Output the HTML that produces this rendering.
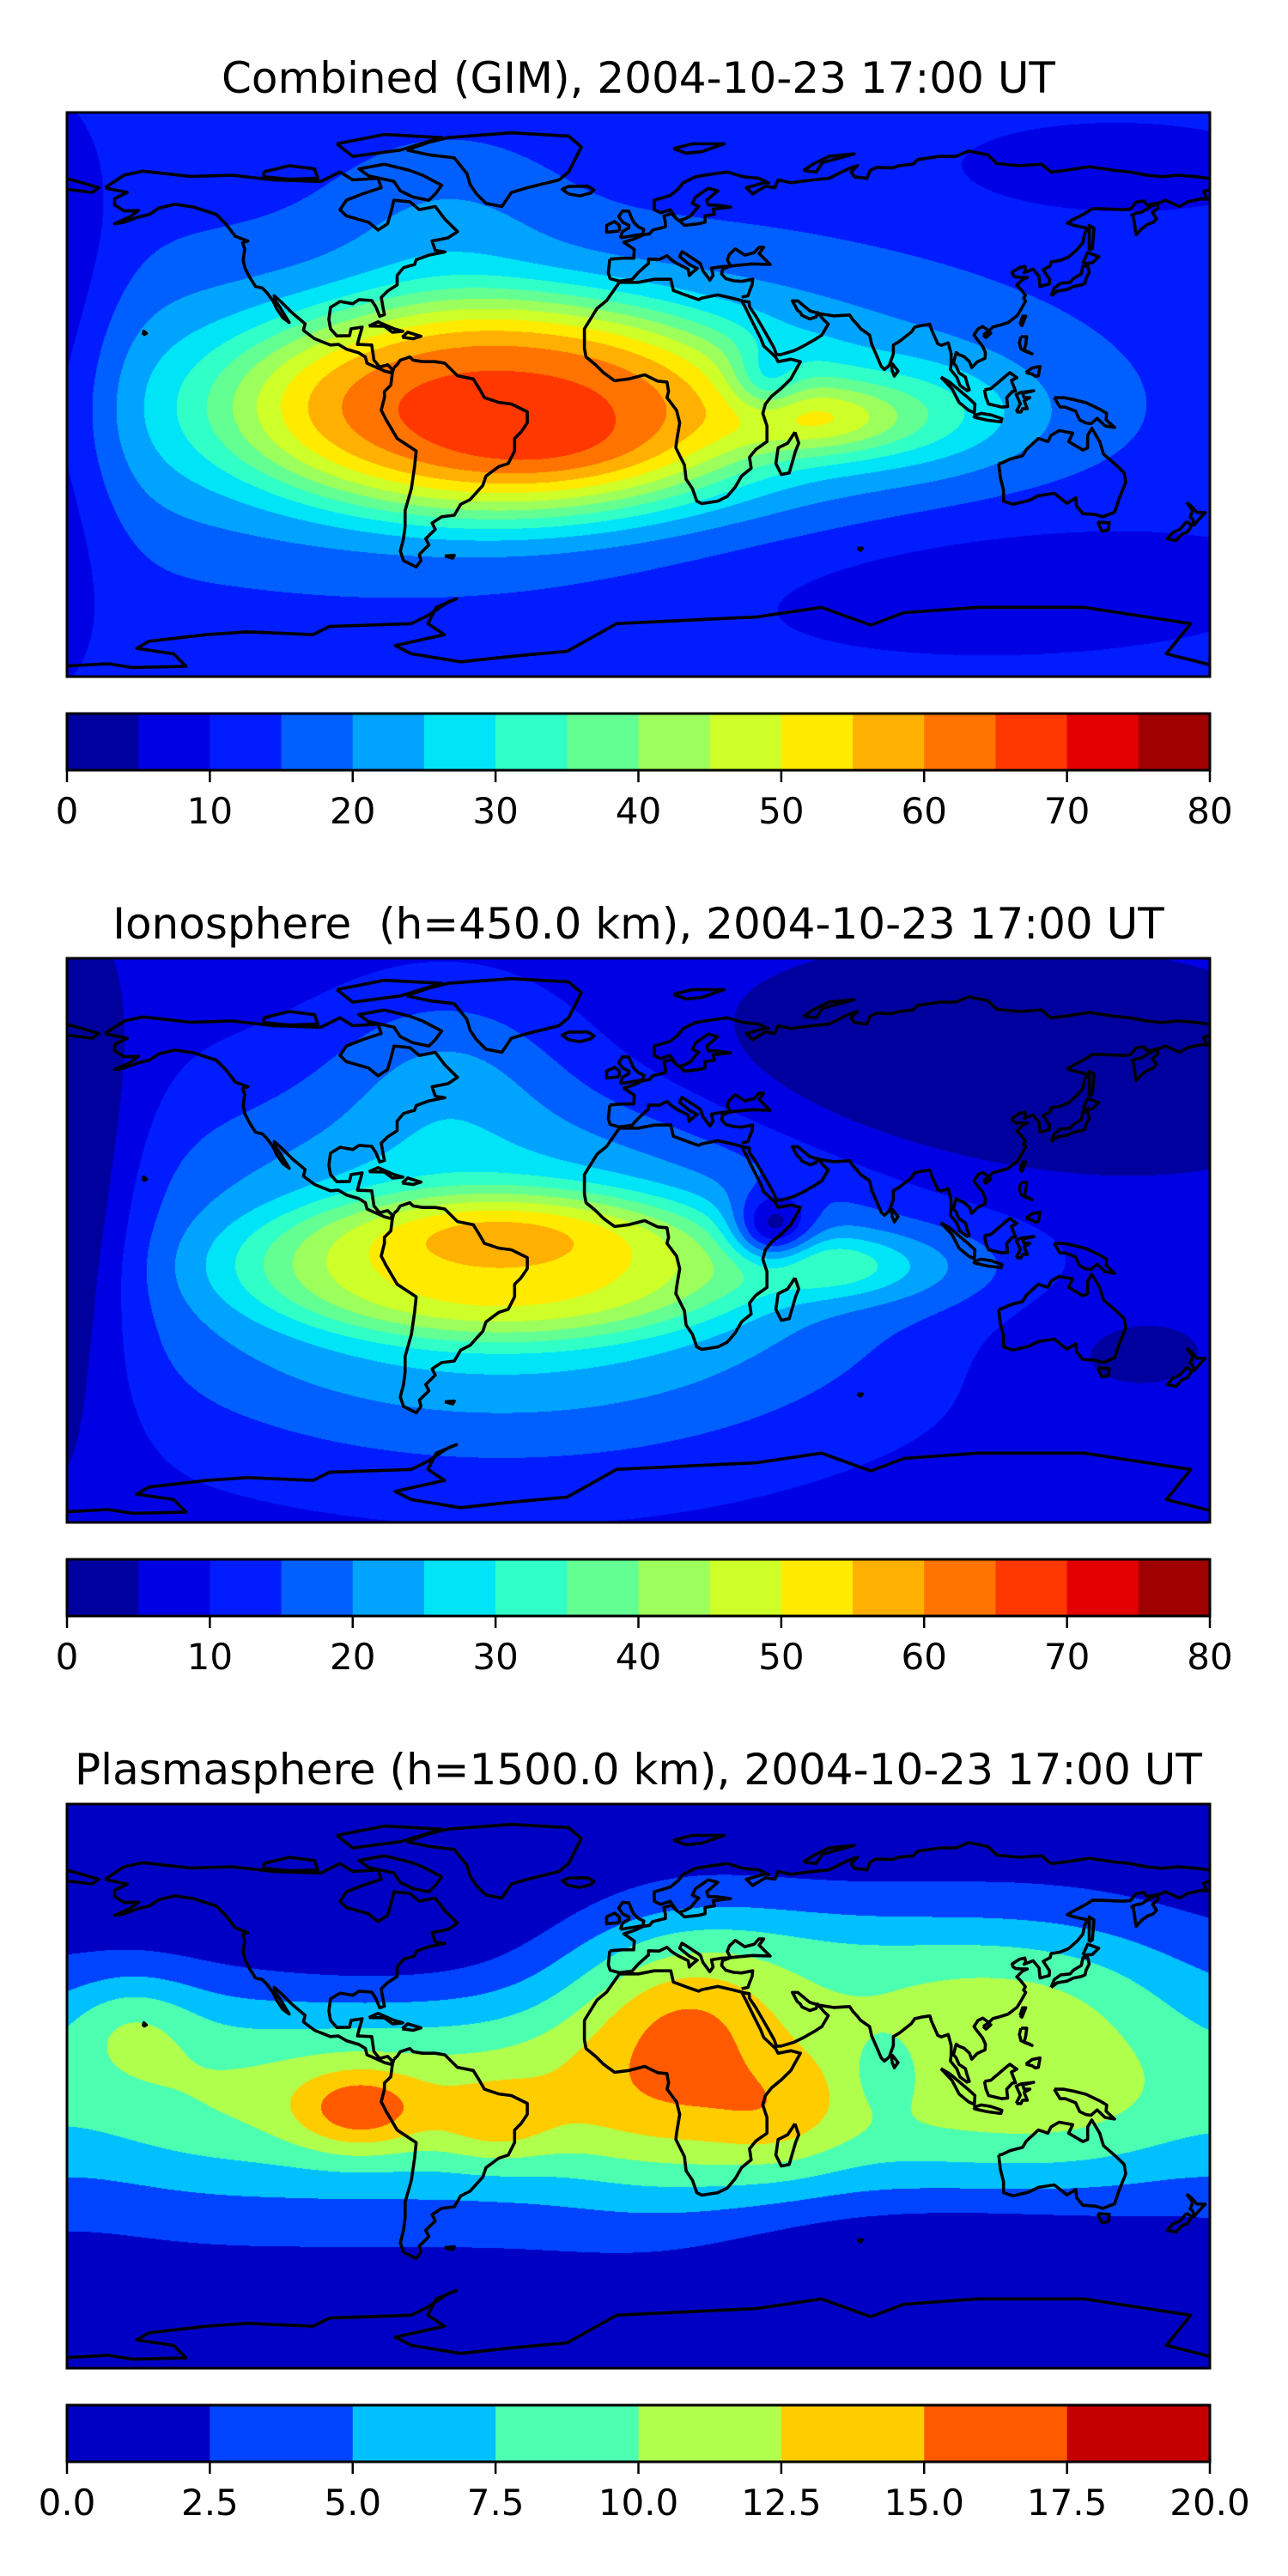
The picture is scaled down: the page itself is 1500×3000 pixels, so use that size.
<!DOCTYPE html>
<html><head><meta charset="utf-8"><title>TEC maps</title>
<style>
html,body{margin:0;padding:0;background:#fff;}
#root{position:relative;width:1500px;height:3000px;overflow:hidden;background:#fff;}
canvas{position:absolute;left:78px;}
svg{position:absolute;left:0;top:0;}
text{font-family:"DejaVu Sans","Liberation Sans",sans-serif;fill:#000;}
</style></head>
<body>
<div id="root">
<canvas id="c1" width="1331" height="657" style="top:131px"></canvas>
<canvas id="c2" width="1331" height="657" style="top:1116px"></canvas>
<canvas id="c3" width="1331" height="657" style="top:2101px"></canvas>
<svg id="ov" width="1500" height="3000" viewBox="0 0 1500 3000">
<text x="743.5" y="108" font-size="50" text-anchor="middle">Combined (GIM), 2004-10-23 17:00 UT</text>
<text x="743.5" y="1093" font-size="50" text-anchor="middle" style="white-space:pre" xml:space="preserve">Ionosphere  (h=450.0 km), 2004-10-23 17:00 UT</text>
<text x="743.5" y="2078" font-size="50" text-anchor="middle">Plasmasphere (h=1500.0 km), 2004-10-23 17:00 UT</text>
</svg>
</div>
<script>
// ---- data: contour levels ----
const levelsTEC = [0,5,10,15,20,25,30,35,40,45,50,55,60,65,70,75,80];
const tickTEC = [0,10,20,30,40,50,60,70,80];
const tickTECLabels = ["0","10","20","30","40","50","60","70","80"];
const levelsPS = [0,2.5,5,7.5,10,12.5,15,17.5,20];
const tickPS = [0,2.5,5,7.5,10,12.5,15,17.5,20];
const tickPSLabels = ["0.0","2.5","5.0","7.5","10.0","12.5","15.0","17.5","20.0"];
const colorsTEC = ['#00009f','#0000e4','#001cff','#0060ff','#00a4ff','#00e4f8','#30ffc8','#64ff92','#9cff5c','#ceff28','#ffea00','#ffb000','#ff7400','#ff3800','#e40000','#9f0000'];
const colorsPS = ['#0000c4','#0044ff','#00c0ff','#4cffb0','#b0ff4c','#ffcc00','#ff5a00','#c40000'];

// ---- field 1 (combined) components ----
const f1Base = 12;
const f1Lon = [-43,-43,58,90,40,100,150,-185,-60,-30];
const f1Lat = [-4,-4,-8,-6,4,-58,72,0,55,-18];
const f1Amp = [27,28,16,10,-12,-6,-6,-12,6,4];
const f1Sx  = [70,95,18,25,8,75,35,15,25,25];
const f1Sy  = [30,30,8,12,8,18,10,50,20,8];
const f1Q   = [4,2,2,2,2,2,2,2,2,2];
// ---- field 2 (ionosphere) ----
const f2Base = 7;
const f2Lon = [-43,-43,-43,100,-185,150,42,60,90,-60];
const f2Lat = [-8,-8,3,52,10,-35,3,-8,-8,55];
const f2Amp = [20,26,6,-10,-16,-4,-22,12,6,8];
const f2Sx  = [70,85,30,70,18,30,9,18,25,25];
const f2Sy  = [20,40,8,25,50,15,8,7,10,20];
const f2Q   = [4,2,2,2,2,2,2,2,2,2];
// ---- field 3 (plasmasphere) ----
const f3Base = 1;
const f3Lon = [0,-160,115,130,12,15,45,-88,-45,-75,78,180,-180,-80,30,100];
const f3Lat = [-2,20,33,-5,10,25,-12,-8,-12,-5,4,0,0,55,45,-52];
const f3Amp = [9,4,5.4,1.4,5.3,3,2.5,6,3.5,1.3,-3,-2,-2,-3,3,-2.5];
const f3Sx  = [1e7,15,45,30,28,22,15,14,13,40,8,25,25,45,40,50];
const f3Sy  = [26,12,18,15,30,12,12,9,9,15,9,30,30,20,12,12];
const f3Q   = [2,2,2,2,2,2,2,2,2,2,2,2,2,2,2,2];

const W = 1331, H = 657;
const panelTops = [131,1116,2101];
function X(lon){return (lon+180)/360*W;}
function Y(lat){return (90-lat)/180*H;}
function hex(c){return [parseInt(c.substr(1,2),16),parseInt(c.substr(3,2),16),parseInt(c.substr(5,2),16)];}

function drawField(id, base, lons, lats, amps, sxs, sys, qs, levels, colors){
  const cv = document.getElementById(id);
  const ctx = cv.getContext('2d');
  const img = ctx.createImageData(W,H);
  const n = lons.length;
  const cols = colors.map(hex);
  const dxs = lons.map((c,k)=>{const a=new Float64Array(W);for(let i=0;i<W;i++){const lon=-180+(i+0.5)/W*360;const d=(lon-c)/sxs[k];a[i]=d*d;}return a;});
  const dy2 = new Float64Array(n);
  for(let j=0;j<H;j++){
    const lat = 90-(j+0.5)/H*180;
    for(let k=0;k<n;k++){const d=(lat-lats[k])/sys[k];dy2[k]=d*d;}
    for(let i=0;i<W;i++){
      let v=base;
      for(let k=0;k<n;k++){
        const r2=dxs[k][i]+dy2[k];
        if(r2>60) continue;
        v+=amps[k]*Math.exp(-0.5*(qs[k]===2?r2:Math.pow(r2,qs[k]/2)));
      }
      let li=0;
      for(let m=1;m<levels.length-1;m++){ if(v>=levels[m]) li=m; }
      const c=cols[li];
      const p=(j*W+i)*4;
      img.data[p]=c[0];img.data[p+1]=c[1];img.data[p+2]=c[2];img.data[p+3]=255;
    }
  }
  ctx.putImageData(img,0,0);
}
drawField('c1',f1Base,f1Lon,f1Lat,f1Amp,f1Sx,f1Sy,f1Q,levelsTEC,colorsTEC);
drawField('c2',f2Base,f2Lon,f2Lat,f2Amp,f2Sx,f2Sy,f2Q,levelsTEC,colorsTEC);
drawField('c3',f3Base,f3Lon,f3Lat,f3Amp,f3Sx,f3Sy,f3Q,levelsPS,colorsPS);

// ---- coastlines (lon,lat) ----
const coasts = {
 northAmerica:[[-168,66],[-162,70],[-156,71.3],[-141,69.6],[-128,70],[-115,68.5],[-100,68],[-94,71],[-90,68.5],[-82,69],[-81,66],[-87,64],[-92,62],[-94,59],[-92,57],[-85,55],[-82,52.5],[-79,54.5],[-78,58],[-77,62],[-72,61.5],[-69,59],[-64,60],[-61,56],[-57,52],[-60,50],[-65,49],[-64,46],[-61,45.5],[-66,44.5],[-70,43],[-70.5,41.5],[-74,40.5],[-76,38],[-76,35],[-79,33],[-81,31],[-80.5,28],[-80,25.5],[-81.5,25],[-82.7,28],[-84,30],[-88,30.3],[-90,29],[-94,29.7],[-97,27.8],[-97.5,24],[-97,21],[-95,18.7],[-91,18.8],[-90.5,21],[-87,21.5],[-88,18],[-88.5,16],[-84,15.8],[-83.3,11],[-81.5,8.8],[-79,9.5],[-77.5,8],[-78,7],[-80,7.5],[-81,8],[-85.5,10],[-86,12],[-88,13.3],[-92,14.5],[-94.5,16],[-97,15.8],[-102,17.8],[-105.5,20.5],[-105,22.6],[-109,26],[-112.5,29.5],[-114.7,31.5],[-114.5,30],[-113,28],[-110,23],[-112,24.5],[-114,27.5],[-115,29.7],[-117,32.5],[-118.5,34],[-120.6,34.5],[-122.5,37.5],[-124,40.5],[-124.5,43],[-124,46.5],[-124.7,48.4],[-123,49],[-127,50.5],[-130,54.5],[-133,57.5],[-137,58.8],[-140,59.8],[-146,60.7],[-151,59.5],[-154,57.5],[-158,56.5],[-162,55],[-165,54.5],[-160,56.8],[-157.5,58.7],[-162,58.6],[-165,60.5],[-165,62.5],[-161,64.5],[-166,65.5],[-168,66]],
 greenland:[[-73,78],[-66,80.5],[-60,82],[-40,83.5],[-22,82.5],[-18,79],[-20,75],[-22,71],[-25,68.5],[-35,66],[-40,64.5],[-43,60],[-48,61],[-51,64],[-53,67],[-54,70.5],[-58,75.5],[-66,76.5],[-73,78]],
 baffin:[[-80,73.5],[-72,71.5],[-68,70],[-62,66.8],[-64,64],[-66,62],[-71,63],[-75,65],[-77,68],[-85,69.8],[-88,72],[-80,73.5]],
 ellesmere:[[-95,80],[-80,83],[-62,82],[-75,78],[-90,76],[-95,80]],
 victoria:[[-118,71],[-110,73],[-102,72],[-101,69],[-110,68.7],[-118,69.5],[-118,71]],
 southAmerica:[[-77,8.6],[-76,9.5],[-75,11],[-72,12],[-71,11],[-68,10.5],[-64,10.5],[-61,10],[-57,6],[-52,5],[-50,1.7],[-48.5,-1],[-44,-2.5],[-40,-3],[-35,-5.5],[-35,-9],[-37,-12],[-39,-14],[-39,-18],[-41,-22],[-44,-23],[-48,-26],[-49,-29],[-53,-33.5],[-56,-35],[-58,-38.5],[-62,-39],[-65,-41],[-64,-43],[-67,-46],[-66,-48],[-69,-51],[-68.5,-53],[-70,-55],[-74,-53],[-75,-50],[-74,-46],[-73.5,-42],[-73.5,-37],[-71.5,-30],[-70.5,-23],[-70,-18],[-76,-14],[-79.5,-8],[-81,-5],[-80,-1],[-80,1],[-78,3],[-77.5,7],[-77,8.6]],
 africa:[[-6,35.8],[-10,30],[-13,27.5],[-17,21],[-17,14.7],[-16.5,12],[-13.5,9.5],[-11,7],[-7.5,4.4],[-3,5],[2,6.3],[6,4.3],[9,4],[9.5,1],[9,-1],[12,-5],[13,-9],[12,-15],[11.8,-17],[14.5,-22.5],[15,-27],[17,-30],[18.4,-34],[20,-34.8],[25,-34],[28,-32.5],[30.5,-29.5],[32.5,-26],[35.5,-23.5],[35,-20],[37,-17.5],[40.5,-15],[40.5,-10],[39.2,-6],[40,-3],[42,-0.5],[45,2],[48,5],[51,10.5],[48,11.3],[44,10.5],[43.2,12],[39.5,15.5],[38.5,18],[37,21],[35.5,24],[33.8,27.5],[32.5,30],[29,30.9],[25,31.8],[20,30.8],[19,30.3],[15.5,31.5],[11,33.2],[10.2,36.8],[5,36.8],[0,35.8],[-6,35.8]],
 madagascar:[[49.3,-12],[50.5,-15.5],[49.5,-18],[47.5,-25],[45,-25.5],[43.3,-22],[44,-17],[47,-15.5],[49.3,-12]],
 europeSouth:[[-9,43.2],[-9.5,38.8],[-8.9,37],[-6,36.2],[-2,36.7],[0,39],[3.2,41.9],[3.2,43.2],[6.5,43.1],[9,44.3],[10.5,42.9],[12.3,41.7],[15.7,40],[16,38],[17,39],[18.5,40.2],[16,41.5],[13,44],[13.7,45.6],[15.5,44.5],[19.5,41.8],[20.3,39.5],[22.5,36.5],[23.5,38],[23,40.3],[26,40.8],[29,41],[28,43],[28.7,44.8],[30.5,46.5],[33.5,44.5],[36.5,45.3],[38,47],[39.5,47],[38,45],[41.5,41.5],[36,41.7],[31,41.2],[29,41],[26.5,40],[26.2,38.5],[27.5,37],[30,36.3],[32.5,36.1],[36,36.8],[35.8,35],[35,33],[34.5,31.5],[32.5,31.1]],
 asia:[[32.6,29.9],[34.9,29.5],[35,28],[37,25],[39,21.5],[41,18],[42.8,14.7],[43.5,12.7],[45,12.8],[49,14],[52.2,15.6],[55.5,17.5],[57.8,19],[59.8,22.5],[58.5,23.7],[56.4,26.2],[56,24.8],[54,24.1],[51.5,25.3],[51,26.2],[50,27],[48.5,29.9],[50.2,29.9],[54,26.7],[57,25.8],[61.5,25.1],[66.5,25.4],[67.5,23.9],[68.8,22.5],[70,21],[72.8,19],[73.5,16],[75,12.5],[76.5,9],[77.5,8],[79,9.3],[80.3,13],[80.3,15.8],[82.3,17],[86,20],[87,21.5],[89,22],[91.8,22.4],[92.3,20.7],[94.3,16.2],[95.4,15.7],[97.6,16.5],[98.5,13],[98.5,10],[98.3,8],[100.3,5.5],[101.3,2.9],[103.5,1.3],[104.2,1.5],[103.4,4],[103,5.6],[101,6.9],[100,9.2],[99.2,10],[100.1,13.4],[101,12.7],[102.6,12.1],[104.3,10.5],[105,8.6],[106.7,10.4],[109.2,11.6],[109.3,13.4],[108.4,15.4],[106.4,18],[105.7,19],[107,21],[108.5,21.7],[110.4,20.3],[111.7,21.6],[114,22.2],[116.5,23],[119.3,25.2],[120.4,27],[122,29.9],[121.3,30.7],[121.9,31.7],[120.6,33.4],[119.2,34.9],[121,36.7],[122.5,37.4],[120.6,37.4],[118.8,37.5],[118,38.1],[117.7,39],[120,40.5],[121.7,40.9],[122,39.5],[121.5,38.9],[124.3,40],[126.2,37.7],[126.5,34.5],[129.4,35.3],[129.5,36.8],[128.3,38.6],[127.5,39.8],[129.7,41],[130,42.3],[132.9,42.8],[135.5,43.9],[138.2,46.3],[140,48.5],[140.5,51.2],[141.5,53],[137.2,54],[135.1,54.7],[136.7,55.7],[140.5,57.7],[143,59.3],[145.5,59.3],[148.5,59.2],[152.5,59],[155,59.2],[156.8,61.4],[159.3,61.8],[160.1,60.5],[163.5,61.1],[163.7,59.5],[161.9,58],[162.1,57.8],[163.2,56.1],[162.1,54.9],[160.4,54.3],[158.5,52.9],[156.8,51],[155.9,56.8],[155.4,57.3],[156.8,57.9],[158.4,58.1],[161.9,60.3],[166,62],[170.5,60],[173,61.5],[177.5,62.5],[179.2,62.3],[178,64.7],[180,65.5]],
 arcticCoast:[[180,68.9],[176,69.5],[170,70],[165,69.5],[160,70],[155,71],[150,71.5],[142,72.7],[135,71.6],[130,71],[127,73.5],[120,73],[113,73.7],[110,76.5],[104,77.7],[100,76],[95,76],[88,75],[86.5,73.5],[82,73],[80,72.3],[75,72.5],[73,71.5],[72,69],[68,69.5],[67,71],[69,73],[66,72],[60,69],[55,68.5],[48,67.6],[44,68.5],[43,66],[40,66.5],[36,64],[34,66],[40,67.7],[41,67.5],[38,69],[33,69.5],[28,71],[23,70.3],[18,69.5],[14,67.5],[12.5,65.5],[10,63.5],[5,62],[5,59],[7,58],[10,59],[12,56],[10.5,57.7],[8,57],[8.5,55],[8.5,53.5],[4.5,52.5],[3.5,51.3],[1.6,51],[-1.5,49.6],[-4.6,48.6],[-1.3,46.3],[-1.5,43.5],[-5,43.5],[-9,43.2]],
 baltic:[[12,56],[13,55.4],[14.5,54],[19,54.5],[21,55],[21,57],[24,57.5],[23.5,59.2],[29,59.8],[25,60.4],[22,60.5],[21.5,62],[25,65],[22,65.8],[18,63],[17,61],[19,60],[18,59],[16.5,57],[14.5,56],[12.8,55.5]],
 britain:[[-5.7,50],[1.4,51.2],[1.7,52.7],[0,53.5],[-1.5,55],[-2,56],[-3,58.5],[-5,58.6],[-6.2,56.8],[-5,55],[-3,54],[-3,53.2],[-5,52],[-5.7,50]],
 ireland:[[-6,52.2],[-6,54],[-7.5,55.2],[-10,54],[-10,51.8],[-6,52.2]],
 iceland:[[-22,64],[-24,65.5],[-22,66.4],[-16,66.5],[-14,65.3],[-15,64.3],[-18.5,63.4],[-22,64]],
 honshu:[[130,31.5],[131,34],[133,35.5],[136,35.8],[137,37],[139.5,38.5],[140,41],[141.5,41],[142,39],[141,37],[140.7,35.5],[139.5,35],[137,34.5],[135,33.5],[132,33],[130,31.5]],
 hokkaido:[[140,41.8],[141.5,45.3],[145,44],[143,42],[140,41.8]],
 sumatra:[[95.3,5.6],[98,4],[103.8,-1],[106,-3],[105.8,-5.8],[104,-5],[101,-2.5],[98.8,1.8],[95.3,5.6]],
 java:[[105.5,-6.8],[108,-6],[111,-6.5],[114.5,-7.7],[114.2,-8.7],[110,-8.2],[106,-7.3],[105.5,-6.8]],
 borneo:[[109,1.5],[109.5,-1],[110.3,-3],[114.5,-4],[116.3,-3.8],[116,-1],[117.8,1],[118.8,1.1],[117.5,4.5],[119.2,5.4],[117,7],[116,6.2],[113.5,4],[111,1.9],[109,1.5]],
 sulawesi:[[119,-5.5],[120.3,-2.9],[119,0],[120.5,0.7],[124.5,1.2],[121,0.4],[121.5,-1],[123.3,-1],[121.5,-2],[122.5,-4.5],[121,-4.5],[120.5,-5.6],[119,-5.5]],
 newGuinea:[[131,-1],[134,-1],[137,-1.6],[141,-2.6],[145.5,-4.8],[147.5,-6],[147.3,-8],[150,-10.5],[147,-10],[144.5,-7.6],[142.6,-9.3],[141,-9.1],[139,-8.1],[137.7,-5.3],[134.4,-4],[132.8,-4],[131,-1]],
 luzon:[[120.5,18.5],[122.3,18.5],[122,16],[121.5,14],[124,13],[123,13.5],[120.5,14.5],[120,16.5],[120.5,18.5]],
 mindanao:[[122,7],[124,8.5],[126.5,9],[126,6],[125,5.8],[124,6.5],[122,7]],
 australia:[[113.5,-22],[114,-26.5],[115,-30.5],[115,-34],[118,-35],[123,-33.8],[126,-32.3],[131,-31.5],[135,-34.7],[137.8,-33],[138,-35.5],[140,-38],[144,-38.3],[146.3,-39],[150,-37.5],[151.5,-33],[153.5,-28],[153,-25],[150.5,-22.5],[146.5,-19],[145.3,-15],[142.8,-10.8],[141.5,-13],[141.5,-17],[140,-17.7],[135.5,-15],[136.8,-12.3],[132.5,-11.5],[130,-13],[129,-15],[126,-14],[122.2,-17.5],[121,-19.5],[117,-20.6],[114.5,-21.8],[113.5,-22]],
 tasmania:[[144.7,-40.7],[148.3,-40.9],[148,-43.2],[146,-43.6],[144.7,-40.7]],
 nzNorth:[[172.7,-34.4],[174.5,-36],[175.9,-37.6],[178.5,-37.7],[177,-39.3],[175,-41.6],[174.6,-39.8],[173.8,-39.2],[174.6,-37],[172.7,-34.4]],
 nzSouth:[[172.7,-40.5],[174.3,-41.7],[173,-43.8],[171.2,-44.5],[169.3,-46.6],[166.6,-46],[168.3,-44],[170.6,-43],[172.7,-40.5]],
 cuba:[[-84.9,21.9],[-82,23.2],[-77,21],[-74.2,20.2],[-77.5,19.9],[-80,21.8],[-84.9,21.9]],
 hispaniola:[[-74.4,18.3],[-72.7,19.9],[-68.5,18.6],[-71,17.8],[-74.4,18.3]],
 hawaii:[[-156,19],[-155,19.5],[-155.8,20.2],[-156,19]],
 falklands:[[-61,-51.5],[-58,-51.3],[-58.5,-52.2],[-61,-51.5]],
 sriLanka:[[79.8,8],[80,9.8],[81.8,7.5],[80.6,5.9],[79.8,8]],
 kerguelen:[[69,-49],[70.5,-49],[70,-49.7],[69,-49]],
 taiwan:[[120.2,22.5],[121,25],[122,25],[120.8,22],[120.2,22.5]],
 hainan:[[108.6,19],[110,20],[111,19.6],[109.5,18.2],[108.6,19]],
 svalbard:[[11,78.5],[17,80],[27,80],[20,77.5],[15,77],[11,78.5]],
 novayaZemlya:[[52,71.5],[55,73.5],[60,76],[68,76.8],[58,74],[56,71],[52,71.5]],
 sakhalin:[[142,46],[142,54],[143.5,53],[143,46.7],[142,46]],
 chukotkaWest:[[-180,65.5],[-172,64.5],[-170,66],[-175,67.5],[-180,68.9]],
 antarctica:[[-180,-86.6],[-167,-85.9],[-159.3,-87.1],[-142.5,-86.7],[-146.4,-82.7],[-158,-81],[-154.2,-78.7],[-136,-76.6],[-123.2,-75.7],[-102.5,-76.6],[-97.3,-74],[-71.5,-73.1],[-66.3,-70.5],[-59.8,-66.1],[-57.3,-65.2],[-63.7,-67.9],[-66.3,-73.1],[-61.1,-76.6],[-76.6,-80.1],[-71.5,-82.7],[-56,-85.3],[-40.5,-83.6],[-22.4,-81.9],[-6.9,-73.1],[21.5,-71.7],[37,-71],[57.7,-67.9],[73.2,-73.6],[83.6,-69.6],[106.8,-67.9],[140.4,-67.9],[174,-73.1],[166.3,-82.7],[180,-86.2]]
};

const NS='http://www.w3.org/2000/svg';
const ov=document.getElementById('ov');
const defs=document.createElementNS(NS,'defs');
const clip=document.createElementNS(NS,'clipPath');
clip.setAttribute('id','mapclip');
const cr=document.createElementNS(NS,'rect');
cr.setAttribute('x',0);cr.setAttribute('y',0);cr.setAttribute('width',W);cr.setAttribute('height',H);
clip.appendChild(cr);defs.appendChild(clip);
const cg=document.createElementNS(NS,'g');
cg.setAttribute('id','coastgeom');
for(const name in coasts){
  const pl=document.createElementNS(NS,'polyline');
  pl.setAttribute('points',coasts[name].map(p=>X(p[0]).toFixed(1)+','+Y(p[1]).toFixed(1)).join(' '));
  
  
  cg.appendChild(pl);
}
defs.appendChild(cg);
ov.appendChild(defs);

const panelNames=['combined','ionosphere','plasmasphere'];
panelTops.forEach((top,p)=>{
  const g=document.createElementNS(NS,'g');
  g.setAttribute('transform','translate(78,'+top+')');
  
  
  const u=document.createElementNS(NS,'use');
  u.setAttribute('href','#coastgeom');
  u.setAttribute('clip-path','url(#mapclip)');
  u.setAttribute('fill','none');u.setAttribute('stroke','#000');u.setAttribute('stroke-width','3.6');u.setAttribute('stroke-linejoin','round');
  
  
  g.appendChild(u);
  const b=document.createElementNS(NS,'rect');
  b.setAttribute('x',0);b.setAttribute('y',0);b.setAttribute('width',W);b.setAttribute('height',H);
  b.setAttribute('fill','none');b.setAttribute('stroke','#000');b.setAttribute('stroke-width','3');
  
  
  g.appendChild(b);
  ov.appendChild(g);

  // colorbar
  const levels = p<2?levelsTEC:levelsPS;
  const colors = p<2?colorsTEC:colorsPS;
  const ticks = p<2?tickTEC:tickPS;
  const labels = p<2?tickTECLabels:tickPSLabels;
  const vmin=levels[0], vmax=levels[levels.length-1];
  const cx=v=>78+(v-vmin)/(vmax-vmin)*W;
  const cbTop=top+700, cbH=66;
  const cb=document.createElementNS(NS,'g');
  
  
  for(let i=0;i<colors.length;i++){
    const r=document.createElementNS(NS,'rect');
    r.setAttribute('x',cx(levels[i]));r.setAttribute('y',cbTop);
    r.setAttribute('width',cx(levels[i+1])-cx(levels[i])+0.5);r.setAttribute('height',cbH);
    r.setAttribute('fill',colors[i]);
    
    
    cb.appendChild(r);
  }
  const fr=document.createElementNS(NS,'rect');
  fr.setAttribute('x',78);fr.setAttribute('y',cbTop);fr.setAttribute('width',W);fr.setAttribute('height',cbH);
  fr.setAttribute('fill','none');fr.setAttribute('stroke','#000');fr.setAttribute('stroke-width','3');
  
  
  cb.appendChild(fr);
  ticks.forEach((t,k)=>{
    const ln=document.createElementNS(NS,'line');
    ln.setAttribute('x1',cx(t));ln.setAttribute('x2',cx(t));
    ln.setAttribute('y1',cbTop+cbH);ln.setAttribute('y2',cbTop+cbH+14);
    ln.setAttribute('stroke','#000');ln.setAttribute('stroke-width','2.5');
    
    
    cb.appendChild(ln);
    const tx=document.createElementNS(NS,'text');
    tx.setAttribute('x',cx(t));tx.setAttribute('y',top+828);
    tx.setAttribute('font-size','42');tx.setAttribute('text-anchor','middle');
    tx.textContent=labels[k];
    
    
    cb.appendChild(tx);
  });
  ov.appendChild(cb);
});
</script>
</body></html>
